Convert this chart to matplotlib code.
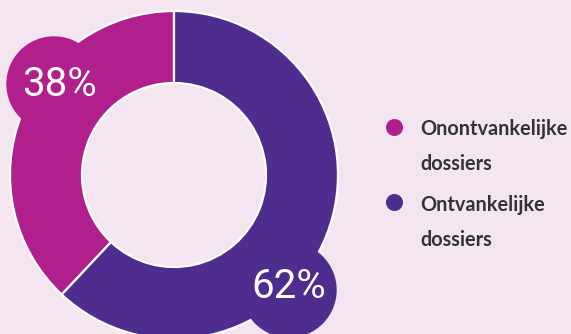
import matplotlib.pyplot as plt
from matplotlib.patches import Circle

labels = ["Onontvankelijke\ndossiers", "Ontvankelijke\ndossiers"]
shares = [38, 62]
colors = ["#B01F8C", "#4F2D8F"]
bg = "#F3E6F0"

W, H = 571, 334
fig = plt.figure(figsize=(W / 100, H / 100), dpi=100, facecolor=bg)
ax = fig.add_axes([0, 0, 1, 1])

# donut, image y -> H - y
cx, cy = 174, H - 175
ax.pie(shares, colors=colors, startangle=90, counterclock=True,
       center=(cx, cy), radius=164, frame=True,
       wedgeprops=dict(width=72, edgecolor="white", linewidth=1.6))
ax.set_xlim(0, W)
ax.set_ylim(0, H)
ax.set_aspect("equal")
ax.axis("off")

# bubbles with the percentages
bubbles = [(54, H - 84, 47), (289, H - 290, 47)]
text_pos = [(60, H - 84), (289, H - 286)]
for (bx, by, r), (tx, ty), c, s in zip(bubbles, text_pos, colors, shares):
    ax.add_patch(Circle((bx, by), r, color=c, zorder=3))
    ax.text(tx, ty, f"{s}%", color="white", fontsize=29, family="Roboto",
            fontweight="normal", ha="center", va="center", zorder=4)

# legend (baseline of the second line)
dot_y = [H - 127, H - 202]
base_y = [H - 170, H - 246]
for dy, by, lab, c in zip(dot_y, base_y, labels, colors):
    ax.scatter([394], [dy], s=150, color=c, linewidths=0, zorder=3)
    ax.text(420, by, lab, fontsize=14.3, fontweight="bold", family="Lato",
            color="#333333", ha="left", va="baseline", linespacing=1.92)

fig.savefig("out.png", dpi=100, facecolor=bg)
